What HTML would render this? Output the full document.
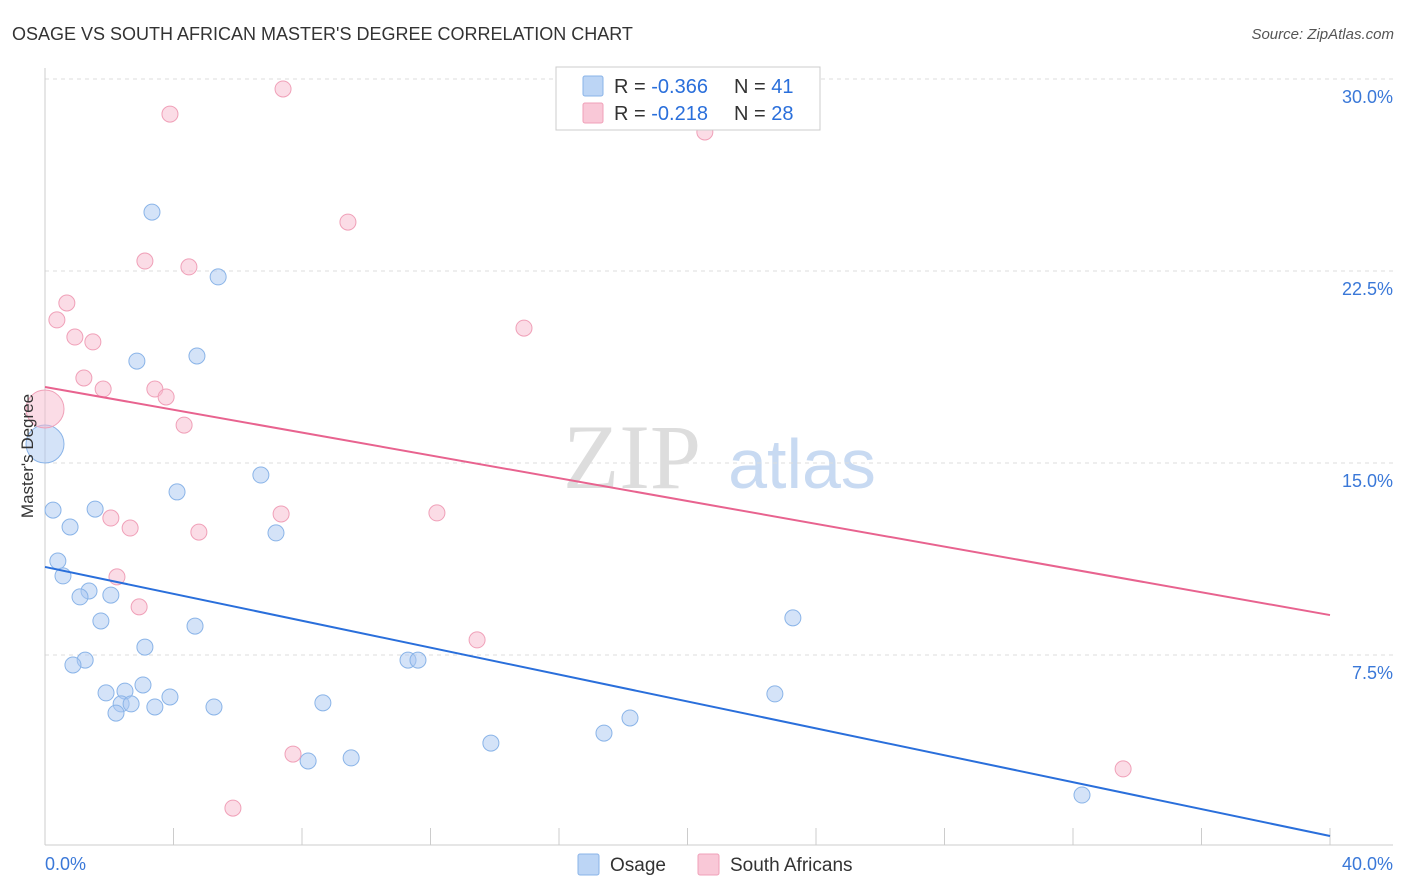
<!DOCTYPE html>
<html><head><meta charset="utf-8"><style>
body{margin:0;background:#fff;width:1406px;height:892px;overflow:hidden;font-family:"Liberation Sans",sans-serif;}
svg{display:block}
</style></head><body>
<svg id="chart" width="1406" height="892">
<text x="12" y="40" font-size="18" fill="#333">OSAGE VS SOUTH AFRICAN MASTER'S DEGREE CORRELATION CHART</text>
<text x="1394" y="39" font-size="15" fill="#555" font-style="italic" text-anchor="end">Source: ZipAtlas.com</text>
<g>
<text x="632" y="488" font-size="92" fill="#ddd" font-family="Liberation Serif,serif" text-anchor="middle">ZIP</text>
<text x="802" y="488" font-size="70" fill="#c8daf2" text-anchor="middle">atlas</text>
</g>
<g id="grid"></g>
<g id="axes"></g>
<g id="pts"></g>
<g id="lines"></g>
<text x="33" y="456" font-size="17" fill="#333" text-anchor="middle" transform="rotate(-90 33 456)">Master's Degree</text>
<g>
<rect x="556" y="67" width="264" height="63" fill="#fff" stroke="#ccc"/>
<rect x="583" y="76" width="20" height="20" fill="#bcd5f5" stroke="#8ab4e8" rx="2"/>
<rect x="583" y="103" width="20" height="20" fill="#f9c8d7" stroke="#f0a0b8" rx="2"/>
<text x="614" y="93" font-size="20" fill="#333">R = <tspan fill="#2a6fdb">-0.366</tspan></text>
<text x="734" y="93" font-size="20" fill="#333">N = <tspan fill="#2a6fdb">41</tspan></text>
<text x="614" y="120" font-size="20" fill="#333">R = <tspan fill="#2a6fdb"> -0.218</tspan></text>
<text x="734" y="120" font-size="20" fill="#333">N = <tspan fill="#2a6fdb">28</tspan></text>
</g>
<g>
<rect x="578" y="854" width="21" height="21" fill="#bcd5f5" stroke="#8ab4e8" rx="2"/>
<text x="610" y="871" font-size="19" fill="#333">Osage</text>
<rect x="698" y="854" width="21" height="21" fill="#f9c8d7" stroke="#f0a0b8" rx="2"/>
<text x="730" y="871" font-size="19" fill="#333">South Africans</text>
</g>
</svg>
<script>
const yTicks=[7.5,15,22.5,30];
const yTickLabels=["7.5%","15.0%","22.5%","30.0%"];
const xTickLabels=["0.0%","40.0%"];
const blueX=[3.33,5.39,2.86,4.73,0,6.72,4.11,0.25,1.56,0.78,7.19,0.4,0.56,1.37,1.09,2.05,1.74,4.67,3.11,1.25,0.87,11.3,11.61,23.28,1.9,2.49,3.05,3.89,2.37,2.68,2.21,3.42,5.26,8.65,22.72,18.21,17.4,13.88,8.19,9.53,32.28];
const blueY=[24.8,22.27,18.98,19.18,15.74,14.53,13.87,13.16,13.2,12.5,12.27,11.17,10.59,10.0,9.77,9.84,8.83,8.63,7.81,7.3,7.11,7.3,7.3,8.95,6.02,6.09,6.33,5.86,5.59,5.59,5.23,5.47,5.47,5.63,5.98,5.04,4.45,4.06,3.36,3.48,2.03];
const pinkX=[7.41,3.89,20.54,9.43,3.11,4.48,0.68,0.37,0.93,1.49,14.91,1.21,1.81,3.42,3.77,0,4.33,2.05,2.65,4.79,7.35,12.2,2.24,2.93,13.45,7.72,5.85,33.56];
const pinkY=[29.61,28.63,27.93,24.41,22.89,22.66,21.25,20.59,19.92,19.73,20.27,18.32,17.89,17.89,17.58,17.11,16.48,12.85,12.46,12.3,13.01,13.05,10.55,9.38,8.09,3.63,1.52,3.05];
const blueBig=[4];const pinkBig=[15];
const blueTrend=[10.94,0.43];const pinkTrend=[17.97,9.06];
const NS='http://www.w3.org/2000/svg';
const X=v=>45+v*32.125, Y=v=>847-v*25.6;
function mk(t,a,p){const e=document.createElementNS(NS,t);for(const k in a)e.setAttribute(k,a[k]);p.appendChild(e);return e;}
const grid=document.getElementById('grid'),axes=document.getElementById('axes'),pts=document.getElementById('pts'),lines=document.getElementById('lines');
yTicks.forEach((t,i)=>{
 const g=mk('line',{x1:45,x2:1393,y1:Y(t),y2:Y(t),stroke:'#ddd','stroke-dasharray':'4,4'},grid);
 
 
 const l=mk('text',{x:1393,y:Y(t)+24,'font-size':18,fill:'#3a78d8','text-anchor':'end'},axes);
 l.textContent=yTickLabels[i];
 
 
});
const ax=mk('line',{x1:45,x2:45,y1:68,y2:845,stroke:'#ccc'},axes);


const bx=mk('line',{x1:45,x2:1393,y1:845,y2:845,stroke:'#ccc'},axes);


for(let i=0;i<=10;i++){const t=mk('line',{x1:X(i*4),x2:X(i*4),y1:828,y2:845,stroke:'#ccc'},axes);
 
 }
[[0,'start',45],[40,'end',1393]].forEach((d,i)=>{const l=mk('text',{x:d[2],y:870,'font-size':18,fill:'#3a78d8','text-anchor':d[1]},axes);l.textContent=xTickLabels[i];
 
 });
function dots(xs,ys,big,fill,stroke,name){xs.forEach((x,i)=>{const c=mk('circle',{cx:X(x),cy:Y(ys[i]),r:big.includes(i)?19:8,fill:fill,stroke:stroke,'stroke-width':1},pts);
 
 });}
dots(blueX,blueY,blueBig,'rgba(170,200,242,0.5)','#8ab4e8','osage-point');
dots(pinkX,pinkY,pinkBig,'rgba(248,185,206,0.5)','#f0a0b8','south-african-point');
const b=mk('line',{x1:X(0),y1:Y(blueTrend[0]),x2:X(40),y2:Y(blueTrend[1]),stroke:'#2a6fdb','stroke-width':2},lines);


const p=mk('line',{x1:X(0),y1:Y(pinkTrend[0]),x2:X(40),y2:Y(pinkTrend[1]),stroke:'#e8638f','stroke-width':2},lines);


</script>
</body></html>
